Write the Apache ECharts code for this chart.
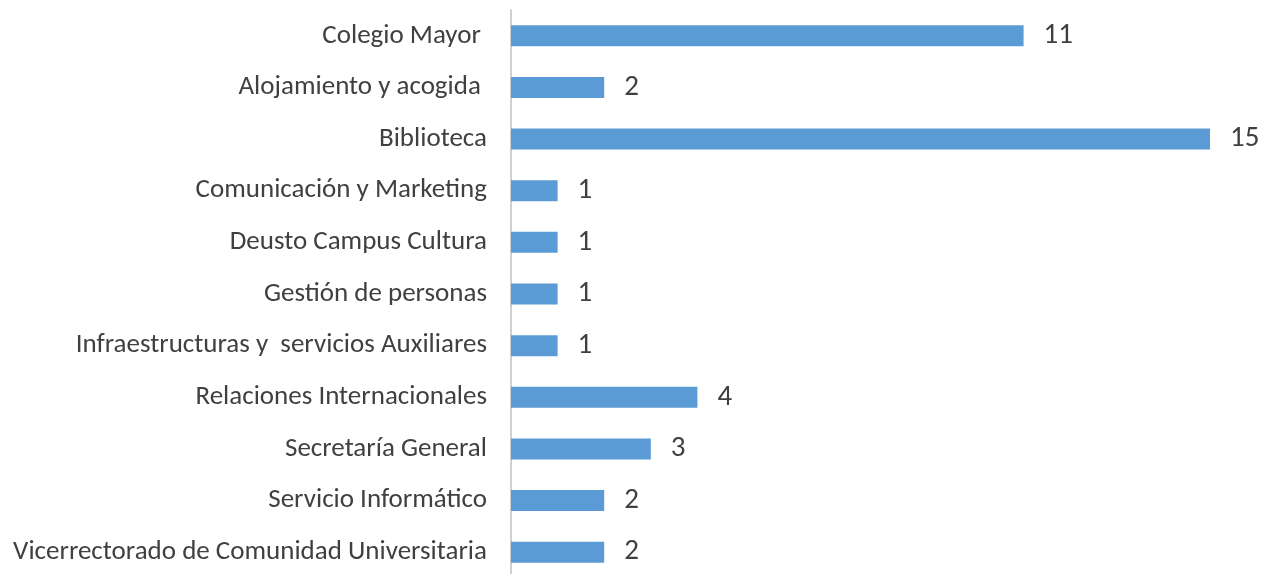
<!DOCTYPE html>
<html>
<head>
<meta charset="utf-8">
<script src="https://cdn.jsdelivr.net/npm/echarts@6/dist/echarts.min.js"></script>
<style>
html, body { margin: 0; padding: 0; background: #fff; }
#chart { width: 1263px; height: 574px; }
</style>
</head>
<body>
<div id="chart"></div>
<script>
// categories top to bottom
var categories = [
  'Colegio Mayor ',
  'Alojamiento y acogida ',
  'Biblioteca',
  'Comunicación y Marketing',
  'Deusto Campus Cultura',
  'Gestión de personas',
  'Infraestructuras y  servicios Auxiliares',
  'Relaciones Internacionales',
  'Secretaría General',
  'Servicio Informático',
  'Vicerrectorado de Comunidad Universitaria'
];
var values = [11, 2, 15, 1, 1, 1, 1, 4, 3, 2, 2];

var chart = echarts.init(document.getElementById('chart'));

var option = {
  animation: false,
  grid: { left: 511, right: 53, top: 10, height: 568, outerBoundsMode: 'none', containLabel: false },
  xAxis: {
    type: 'value',
    min: 0,
    max: 15,
    show: false
  },
  yAxis: {
    type: 'category',
    inverse: true,
    data: categories,
    axisLine: { show: true, lineStyle: { color: '#d0d0d0', width: 2 } },
    axisTick: { show: false },
    axisLabel: {
      margin: 24,
      color: '#404040',
      fontSize: 27,
      fontFamily: 'Carlito, Lato'
    }
  },
  series: [{
    type: 'bar',
    data: values,
    barWidth: 21,
    itemStyle: { color: '#5b9bd5' },
    label: {
      show: true,
      position: 'right',
      distance: 20,
      color: '#404040',
      fontSize: 29,
      fontFamily: 'Carlito, Lato'
    }
  }]
};

chart.setOption(option);
</script>
</body>
</html>
